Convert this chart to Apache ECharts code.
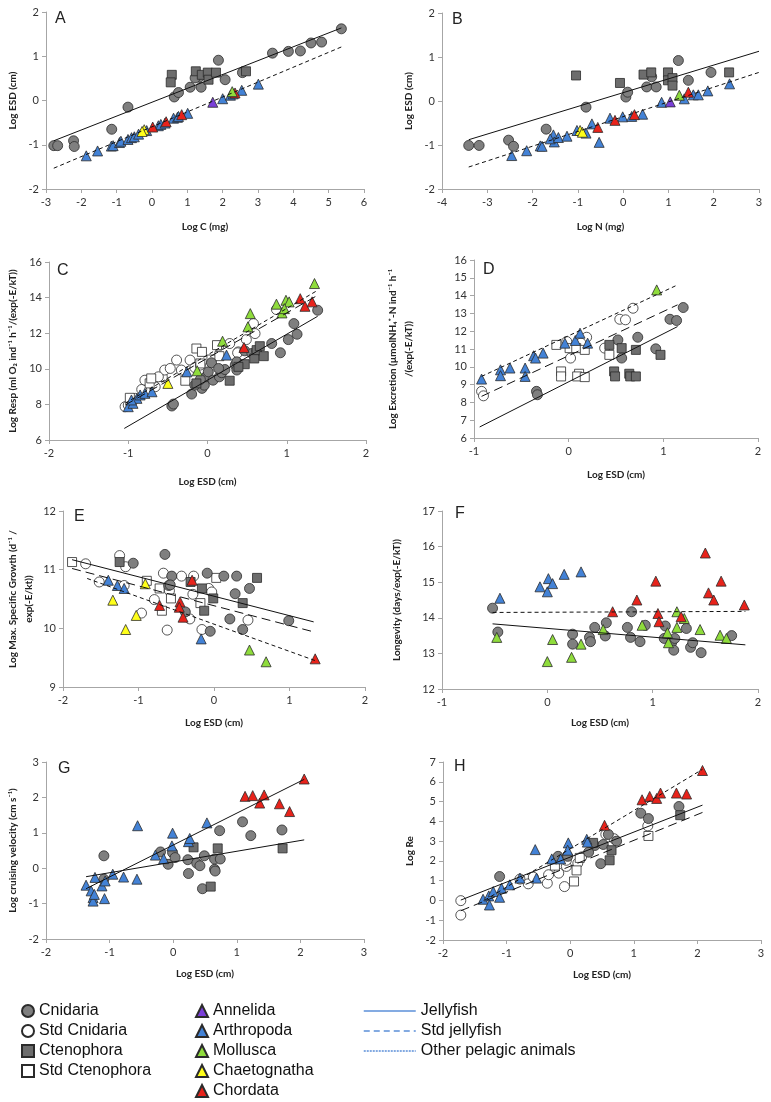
<!DOCTYPE html>
<html><head><meta charset="utf-8">
<script src="https://cdn.jsdelivr.net/npm/echarts@6/dist/echarts.min.js"></script>
<style>html,body{margin:0;padding:0;background:#fff}#c{width:771px;height:1102px}</style>
</head><body><div id="c"></div>
<script>
// ---------- DATA ----------
// Panel A: Log C (mg) vs Log ESD (cm)
const A_cnid = [[-2.78,-1.02],[-2.67,-1.02],[-2.22,-0.91],[-2.20,-1.04],[-1.14,-0.65],[-0.68,-0.15],[0.63,0.08],[0.75,0.18],[1.08,0.30],[1.39,0.30],[1.34,0.53],[1.22,0.51],[1.88,0.91],[2.07,0.47],[2.56,0.63],[3.41,1.07],[3.86,1.11],[4.20,1.12],[4.50,1.30],[4.80,1.32],[5.36,1.62]];
const A_cten = [[0.56,0.58],[0.53,0.41],[1.24,0.66],[1.41,0.58],[1.58,0.63],[1.60,0.47],[1.81,0.63],[2.66,0.66]];
const A_arth = [[-1.86,-1.25],[-1.54,-1.14],[-1.15,-1.03],[-1.10,-1.02],[-0.92,-0.95],[-0.88,-0.92],[-0.68,-0.88],[-0.58,-0.84],[-0.50,-0.82],[-0.38,-0.76],[-0.15,-0.68],[0.18,-0.57],[0.25,-0.54],[0.37,-0.51],[0.61,-0.40],[0.72,-0.38],[0.75,-0.36],[1.01,-0.29],[2.00,0.04],[2.22,0.12],[2.30,0.15],[2.54,0.23],[3.01,0.37]];
const A_chae = [[-0.22,-0.66],[-0.28,-0.70]];
const A_chor = [[0.02,-0.60],[0.40,-0.48],[0.84,-0.32],[2.35,0.17]];
const A_anne = [[1.72,-0.04]];
const A_moll = [[2.27,0.20]];
const A_jelly = [[-2.78,-0.91],[5.36,1.64]];
const A_other = [[-2.78,-1.53],[5.36,1.21]];

// Panel B: Log N (mg) vs Log ESD (cm)
const B_cnid = [[-3.41,-1.01],[-3.18,-1.01],[-2.53,-0.89],[-2.42,-1.03],[-1.70,-0.64],[-0.82,-0.14],[0.06,0.09],[0.10,0.20],[0.52,0.32],[0.73,0.32],[0.63,0.55],[1.22,0.92],[1.44,0.47],[1.94,0.65]];
const B_cten = [[-1.04,0.58],[-0.07,0.41],[0.45,0.60],[0.62,0.65],[0.99,0.65],[0.99,0.47],[1.09,0.52],[1.09,0.35],[2.34,0.65]];
const B_arth = [[-2.46,-1.24],[-2.13,-1.13],[-1.83,-1.02],[-1.79,-1.03],[-1.54,-0.77],[-1.52,-0.93],[-1.61,-0.86],[-1.43,-0.83],[-1.24,-0.80],[-1.02,-0.67],[-0.82,-0.73],[-0.69,-0.52],[-0.53,-0.94],[-0.29,-0.39],[-0.01,-0.36],[0.19,-0.35],[0.43,-0.30],[0.85,-0.03],[1.35,0.05],[1.55,0.14],[1.66,0.14],[1.87,0.23],[2.35,0.39]];
const B_chae = [[-0.95,-0.67],[-0.90,-0.71]];
const B_chor = [[-0.56,-0.60],[-0.18,-0.44],[0.25,-0.31],[1.44,0.20]];
const B_anne = [[1.04,-0.02]];
const B_moll = [[1.24,0.13]];
const B_jelly = [[-3.41,-0.88],[3.00,1.13]];
const B_other = [[-3.41,-1.50],[3.00,0.65]];

// Panel C: Log ESD vs Log Resp
const C_cnid = [[-0.45,7.91],[-0.43,8.02],[-0.20,8.58],[-0.07,8.90],[-0.04,9.08],[-0.02,9.55],[0.01,9.83],[0.07,9.36],[0.15,9.55],[0.18,9.78],[0.22,9.96],[0.35,10.21],[0.37,10.39],[-0.16,9.08],[-0.09,9.40],[0.05,10.34],[0.14,10.02],[0.47,11.01],[0.56,10.86],[0.62,11.01],[0.81,11.42],[0.92,10.90],[1.02,11.64],[1.09,12.54],[1.13,11.94],[1.39,13.29],[0.37,9.93]];
const C_cten = [[0.28,9.33],[0.47,10.26],[0.59,10.58],[0.62,11.05],[0.66,11.27],[0.71,10.71],[0.39,10.11],[-0.14,9.18]];
const C_scnid = [[-1.04,7.87],[-1.00,7.96],[-0.91,8.34],[-0.83,8.84],[-0.79,9.36],[-0.66,8.99],[-0.57,9.55],[-0.54,9.93],[-0.39,10.49],[-0.33,9.93],[-0.22,10.49],[-0.16,10.07],[-0.09,10.21],[0.14,11.27],[0.28,11.42],[0.39,10.95],[0.49,11.64],[0.58,12.54],[0.60,11.98],[0.87,13.33],[0.38,10.90],[-0.62,9.55],[-0.47,10.02]];
const C_scten = [[-0.98,8.37],[-0.73,9.18],[-0.71,9.46],[-0.28,9.33],[-0.14,11.14],[-0.09,10.30],[0.05,10.52],[0.12,11.33],[0.15,10.71],[-0.07,10.95]];
const C_arth = [[-1.00,7.87],[-0.94,8.06],[-0.89,8.34],[-0.85,8.53],[-0.79,8.62],[-0.70,8.71],[-0.96,8.25],[-0.26,9.83],[0.24,10.77]];
const C_chae = [[-0.50,9.18]];
const C_moll = [[-0.13,9.89],[0.19,11.55],[0.51,12.36],[0.54,13.10],[0.87,13.63],[0.94,13.14],[0.99,13.85],[1.03,13.76],[1.35,14.79],[0.97,13.38]];
const C_chor = [[0.46,11.20],[1.17,13.94],[1.23,13.51],[1.32,13.76]];
const C_jelly = [[-1.05,6.65],[1.39,12.95]];
const C_std = [[-1.04,7.96],[1.39,14.13]];
const C_other = [[-1.04,8.06],[1.39,14.41]];

// Panel D: Log ESD vs Log Excretion
const D_cnid = [[-0.34,8.62],[-0.33,8.43],[0.52,11.51],[0.56,10.49],[0.73,11.66],[0.92,11.01],[1.07,12.67],[1.14,12.60],[1.21,13.33]];
const D_cten = [[0.43,11.23],[0.56,11.05],[0.71,10.95],[0.97,10.67],[0.48,9.74],[0.49,9.46],[0.64,9.61],[0.65,9.46],[0.71,9.46]];
const D_scnid = [[-0.92,8.62],[-0.90,8.37],[-0.02,11.42],[0.02,10.49],[0.19,11.66],[0.38,11.05],[0.54,12.67],[0.60,12.64],[0.68,13.29],[0.13,11.33]];
const D_scten = [[-0.13,11.23],[-0.08,9.74],[-0.08,9.46],[0.01,11.05],[0.08,11.05],[0.11,9.61],[0.09,9.46],[0.17,10.95],[0.17,9.42],[0.43,10.67]];
const D_arth = [[-0.92,9.31],[-0.72,9.83],[-0.72,9.50],[-0.62,9.93],[-0.46,9.93],[-0.46,9.46],[-0.37,10.62],[-0.35,10.49],[-0.27,10.77],[-0.04,11.33],[0.07,11.48],[0.12,11.89],[0.20,11.33]];
const D_moll = [[0.93,14.32]];
const D_jelly = [[-0.94,6.62],[1.15,12.26]];
const D_std = [[-0.92,8.34],[1.15,13.48]];
const D_other = [[-0.92,9.46],[1.15,14.60]];

// Panel E: Log ESD vs Log Max. Specific Growth
const E_cnid = [[-1.07,11.11],[-0.65,11.26],[-0.56,10.89],[-0.60,10.73],[-0.38,10.28],[-0.09,10.94],[-0.05,9.95],[0.13,10.89],[0.21,10.16],[0.28,10.59],[0.30,10.89],[0.47,10.68],[0.38,9.98],[0.99,10.13],[-0.58,10.74]];
const E_cten = [[-1.25,11.13],[-0.31,10.79],[-0.16,10.68],[-0.01,10.51],[-0.13,10.30],[0.38,10.43],[0.57,10.86]];
const E_scnid = [[-1.70,11.10],[-1.52,10.79],[-1.25,11.24],[-1.17,11.05],[-1.19,10.73],[-0.96,10.26],[-0.79,10.49],[-0.67,10.94],[-0.62,9.97],[-0.59,10.64],[-0.43,10.89],[-0.27,10.89],[-0.28,10.58],[-0.32,10.16],[-0.16,9.98],[-0.07,10.68],[0.45,10.14],[-0.03,10.62]];
const E_scten = [[-1.88,11.13],[-0.89,10.81],[-0.72,10.68],[-0.69,10.30],[-0.57,10.51],[-0.18,10.43],[0.03,10.86]];
const E_arth = [[-1.40,10.82],[-1.28,10.73],[-1.19,10.68],[-0.17,9.82]];
const E_chae = [[-1.34,10.48],[-1.17,9.98],[-1.03,10.22],[-0.91,10.76]];
const E_chor = [[-0.72,10.39],[-0.45,10.45],[-0.41,10.19],[-0.29,10.82],[-0.46,10.36],[1.34,9.48]];
const E_moll = [[0.47,9.63],[0.69,9.43]];
const E_jelly = [[-1.88,11.17],[1.32,10.11]];
const E_std = [[-1.88,11.02],[1.32,9.94]];
const E_other = [[-1.68,10.85],[1.34,9.45]];

// Panel F: Log ESD vs Longevity
const F_cnid = [[-0.52,14.27],[-0.47,13.60],[0.24,13.54],[0.24,13.26],[0.40,13.45],[0.41,13.33],[0.45,13.73],[0.56,13.86],[0.55,13.49],[0.76,13.73],[0.79,13.45],[0.80,14.17],[0.88,13.33],[0.93,13.79],[1.12,13.77],[1.11,13.42],[1.18,13.30],[1.20,13.09],[1.21,13.42],[1.32,13.70],[1.36,13.17],[1.38,13.30],[1.46,13.02],[1.75,13.50]];
const F_arth = [[-0.45,14.55],[-0.07,14.87],[0.01,15.10],[0.00,14.73],[0.05,14.96],[0.16,15.22],[0.32,15.29]];
const F_moll = [[-0.48,13.45],[0.00,12.77],[0.05,13.39],[0.23,12.89],[0.32,13.26],[0.53,13.67],[0.90,13.79],[1.14,13.58],[1.15,13.30],[1.23,13.73],[1.23,14.17],[1.30,13.98],[1.45,13.67],[1.64,13.51],[1.70,13.42]];
const F_chor = [[0.62,14.17],[0.85,14.50],[1.03,15.03],[1.05,14.12],[1.06,13.89],[1.27,14.03],[1.50,15.82],[1.53,14.70],[1.58,14.50],[1.65,15.03],[1.87,14.36]];
const F_jelly = [[-0.52,13.83],[1.88,13.24]];
const F_other = [[-0.52,14.15],[1.88,14.18]];

// Panel G: Log ESD vs Log cruising velocity
const G_arth = [[-1.37,-0.48],[-1.29,-0.64],[-1.26,-0.83],[-1.26,-0.93],[-1.23,-0.26],[-1.24,-0.74],[-1.12,-0.50],[-1.08,-0.86],[-1.07,-0.36],[-0.95,-0.17],[-0.78,-0.25],[-0.57,-0.31],[-0.56,1.20],[-0.28,0.37],[-0.15,0.27],[-0.01,0.99],[-0.02,0.63],[0.24,0.75],[0.26,0.84],[0.53,1.28]];
const G_cnid = [[-1.09,0.35],[-1.09,-0.31],[-0.20,0.46],[-0.08,0.11],[-0.01,0.44],[0.03,0.30],[0.23,0.24],[0.24,-0.15],[0.37,0.14],[0.42,0.07],[0.46,-0.58],[0.49,0.35],[0.65,-0.03],[0.66,-0.08],[0.65,0.26],[0.73,1.06],[0.74,0.26],[1.09,1.31],[1.22,0.92],[1.71,1.08]];
const G_cten = [[0.32,0.59],[0.59,-0.52],[0.70,0.56],[1.72,0.56]];
const G_chor = [[1.13,2.03],[1.25,2.05],[1.36,1.84],[1.43,2.07],[1.67,1.82],[1.83,1.60],[2.06,2.52]];
const G_jelly = [[-1.37,-0.24],[2.06,0.80]];
const G_other = [[-1.37,-0.58],[2.06,2.51]];

// Panel H: Log ESD vs Log Re
const H_scnid = [[-1.72,-0.01],[-1.72,-0.74],[-0.79,1.08],[-0.66,0.84],[-0.58,1.18],[-0.36,0.87],[-0.34,1.30],[-0.18,1.38],[-0.09,0.70],[-0.06,1.72],[0.12,1.89],[0.18,2.20],[0.56,3.34],[0.69,3.12],[1.22,3.77],[-0.06,2.03]];
const H_scten = [[-0.24,1.76],[0.06,0.96],[0.10,1.52],[0.15,2.15],[1.23,3.26]];
const H_cnid = [[-1.11,1.21],[-0.19,2.23],[-0.04,2.23],[0.29,2.44],[0.39,2.78],[0.48,1.86],[0.60,3.34],[0.73,3.00],[1.11,4.41],[1.23,4.14],[1.71,4.75],[0.52,2.83]];
const H_cten = [[0.36,2.91],[0.62,2.03],[0.65,2.54],[1.73,4.31]];
const H_arth = [[-1.37,0.06],[-1.28,0.23],[-1.27,-0.23],[-1.21,0.45],[-1.11,0.16],[-1.08,0.62],[-0.95,0.79],[-0.55,2.57],[-0.29,2.10],[-0.15,2.10],[-0.03,2.91],[-0.04,2.54],[0.26,3.09],[0.27,2.95],[-0.79,1.13],[-0.53,1.13]];
const H_chor = [[0.54,3.80],[1.13,5.09],[1.25,5.26],[1.36,5.16],[1.42,5.43],[1.67,5.43],[1.83,5.38],[2.08,6.57]];
const H_jelly = [[-1.72,0.02],[2.08,4.82]];
const H_std = [[-1.72,-0.52],[2.08,4.45]];
const H_other = [[-1.34,0.02],[2.08,6.63]];

// Axis ranges and labels
const panelLetters = ['A','B','C','D','E','F','G','H'];
const xNames = ['Log C (mg)','Log N (mg)','Log ESD (cm)','Log ESD (cm)','Log ESD (cm)','Log ESD (cm)','Log ESD (cm)','Log ESD (cm)'];
const yNames = ['Log ESD (cm)','Log ESD (cm)','Log Resp (ml O\u2082 ind\u207B\u00B9 h\u207B\u00B9/(exp(-E/kT))','Log Excretion (\u00B5molNH\u2084\u207A-N ind\u207B\u00B9 h\u207B\u00B9\n/(exp(-E/kT))','Log Max. Specific Growth (d\u207B\u00B9 /\nexp(-E/kt))','Longevity (days/exp(-E/kT))','Log cruising velocity (cm s\u207B\u00B9)','Log Re'];
const xRanges = [[-3,6,1],[-4,3,1],[-2,2,1],[-1,2,1],[-2,2,1],[-1,2,1],[-2,3,1],[-2,3,1]];
const yRanges = [[-2,2,1],[-2,2,1],[6,16,2],[6,16,1],[9,12,1],[12,17,1],[-2,3,1],[-2,7,1]];

// ---------- LAYOUT / STYLE ----------
const grids = [
  {left:46, top:12, width:318, height:177},
  {left:442, top:13, width:317, height:176},
  {left:49, top:262, width:317, height:178},
  {left:474, top:260, width:284, height:178},
  {left:63, top:511, width:302, height:176},
  {left:442, top:511, width:316, height:178},
  {left:46, top:762, width:318, height:177},
  {left:443, top:762, width:318, height:178}
];
const xNameGaps = [33,33,37,32,31,29,30,30];
const yNameGaps = [25,25,28,57,26,37,25,25];
const letterPos = [[55,11],[452,12],[57,263],[483,262],[74,509],[455,506],[58,761],[454,759]];

const STY = {
  cnid:  {name:'Cnidaria', symbol:'circle', size:10, color:'#7f7f7f'},
  scnid: {name:'Std Cnidaria', symbol:'circle', size:10, color:'#ffffff'},
  cten:  {name:'Ctenophora', symbol:'rect', size:9, color:'#6d6d6d'},
  scten: {name:'Std Ctenophora', symbol:'rect', size:9, color:'#ffffff'},
  anne:  {name:'Annelida', symbol:'triangle', size:10, color:'#7a3fd8'},
  arth:  {name:'Arthropoda', symbol:'triangle', size:10, color:'#4382d6'},
  moll:  {name:'Mollusca', symbol:'triangle', size:10, color:'#8fdc3c'},
  chae:  {name:'Chaetognatha', symbol:'triangle', size:10, color:'#ffff1a'},
  chor:  {name:'Chordata', symbol:'triangle', size:10, color:'#e8231b'}
};
const LSTY = {
  jelly: {name:'Jellyfish', type:'solid'},
  std:   {name:'Std jellyfish', type:[9,5]},
  other: {name:'Other pelagic animals', type:[4,3]}
};

const panels = [
  {pts:{cnid:A_cnid, cten:A_cten, arth:A_arth, chae:A_chae, chor:A_chor, anne:A_anne, moll:A_moll}, lines:{jelly:A_jelly, other:A_other}},
  {pts:{cnid:B_cnid, cten:B_cten, arth:B_arth, chae:B_chae, chor:B_chor, anne:B_anne, moll:B_moll}, lines:{jelly:B_jelly, other:B_other}},
  {pts:{scnid:C_scnid, scten:C_scten, cnid:C_cnid, cten:C_cten, arth:C_arth, chae:C_chae, moll:C_moll, chor:C_chor}, lines:{jelly:C_jelly, std:C_std, other:C_other}},
  {pts:{scnid:D_scnid, scten:D_scten, cnid:D_cnid, cten:D_cten, arth:D_arth, moll:D_moll}, lines:{jelly:D_jelly, std:D_std, other:D_other}},
  {pts:{scnid:E_scnid, scten:E_scten, cnid:E_cnid, cten:E_cten, arth:E_arth, chae:E_chae, chor:E_chor, moll:E_moll}, lines:{jelly:E_jelly, std:E_std, other:E_other}},
  {pts:{cnid:F_cnid, arth:F_arth, moll:F_moll, chor:F_chor}, lines:{jelly:F_jelly, other:F_other}},
  {pts:{cnid:G_cnid, cten:G_cten, arth:G_arth, chor:G_chor}, lines:{jelly:G_jelly, other:G_other}, solidOnly:true},
  {pts:{scnid:H_scnid, scten:H_scten, cnid:H_cnid, cten:H_cten, arth:H_arth, chor:H_chor}, lines:{jelly:H_jelly, std:H_std, other:H_other}}
];

const AX = '#a6a6a6';
const tickFont = 'Lato, "Open Sans", sans-serif';
const xAxes = [], yAxes = [], series = [], titles = [];
panels.forEach((p, i) => {
  const xr = xRanges[i], yr = yRanges[i];
  xAxes.push({gridIndex:i, type:'value', min:xr[0], max:xr[1], interval:xr[2],
    name:xNames[i], nameLocation:'middle', nameGap:xNameGaps[i],
    nameTextStyle:{fontFamily:tickFont, fontSize:10, fontWeight:'bold', color:'#222'},
    axisLine:{onZero:false, lineStyle:{color:AX, width:1}},
    axisTick:{show:true, length:4, lineStyle:{color:AX}},
    axisLabel:{fontFamily:tickFont, fontSize:11, color:'#333', margin:8},
    splitLine:{show:false}});
  yAxes.push({gridIndex:i, type:'value', min:yr[0], max:yr[1], interval:yr[2],
    name:yNames[i], nameLocation:'middle', nameGap:yNameGaps[i],
    nameTextStyle:{fontFamily:tickFont, fontSize:10, fontWeight:'bold', color:'#222', lineHeight:16},
    axisLine:{show:true, onZero:false, lineStyle:{color:AX, width:1}},
    axisTick:{show:true, length:4, lineStyle:{color:AX}},
    axisLabel:{fontFamily:tickFont, fontSize:11, color:'#333', margin:7},
    splitLine:{show:false}});
  Object.keys(p.pts).forEach(k => {
    const s = STY[k];
    series.push({type:'scatter', name:s.name, xAxisIndex:i, yAxisIndex:i, data:p.pts[k],
      symbol:s.symbol, symbolSize:s.size, z:2,
      itemStyle:{color:s.color, borderColor:'#2b2b2b', borderWidth:0.8, opacity:1}});
  });
  Object.keys(p.lines).forEach(k => {
    const l = LSTY[k];
    series.push({type:'line', name:l.name, xAxisIndex:i, yAxisIndex:i, data:p.lines[k],
      symbol:'none', z:3, silent:true,
      lineStyle:{color:'#111', width:1, type: p.solidOnly ? 'solid' : l.type}});
  });
  titles.push({text:panelLetters[i], left:letterPos[i][0], top:letterPos[i][1], padding:0,
    textStyle:{fontFamily:'"Liberation Sans", Arial, sans-serif', fontSize:16, fontWeight:'normal', color:'#222'}});
});

const legFont = {fontFamily:'"Liberation Sans", Arial, sans-serif', fontSize:16, color:'#111', lineHeight:16};
const LEGBLUE = '#5b8fd8';
const HIDE = {color:'rgba(0,0,0,0)', borderColor:'rgba(0,0,0,0)', borderWidth:0};
const option = {
  animation:false,
  backgroundColor:'#fff',
  title:titles,
  grid:grids,
  xAxis:xAxes,
  yAxis:yAxes,
  legend:[
    {orient:'vertical', left:21, top:1003, padding:0, itemWidth:12, itemHeight:12, itemGap:4, selectedMode:false,
     textStyle:legFont, data:['Cnidaria','Std Cnidaria','Ctenophora','Std Ctenophora']},
    {orient:'vertical', left:195, top:1003, padding:0, itemWidth:12, itemHeight:12, itemGap:4, selectedMode:false,
     textStyle:legFont, data:['Annelida','Arthropoda','Mollusca','Chaetognatha','Chordata']},
    {orient:'vertical', left:363, top:1003, padding:0, itemWidth:52, itemHeight:12, itemGap:4, selectedMode:false,
     textStyle:legFont, data:[
       {name:'Jellyfish', itemStyle:HIDE, lineStyle:{color:LEGBLUE, type:'solid', width:1.5}},
       {name:'Std jellyfish', itemStyle:HIDE, lineStyle:{color:LEGBLUE, type:[6,4], width:1.5}},
       {name:'Other pelagic animals', itemStyle:HIDE, lineStyle:{color:LEGBLUE, type:[2,1], width:1.5}}
     ]}
  ],
  series:series
};
const chart = echarts.init(document.getElementById('c'), null, {renderer:'canvas'});
chart.setOption(option);
</script>
</body></html>
